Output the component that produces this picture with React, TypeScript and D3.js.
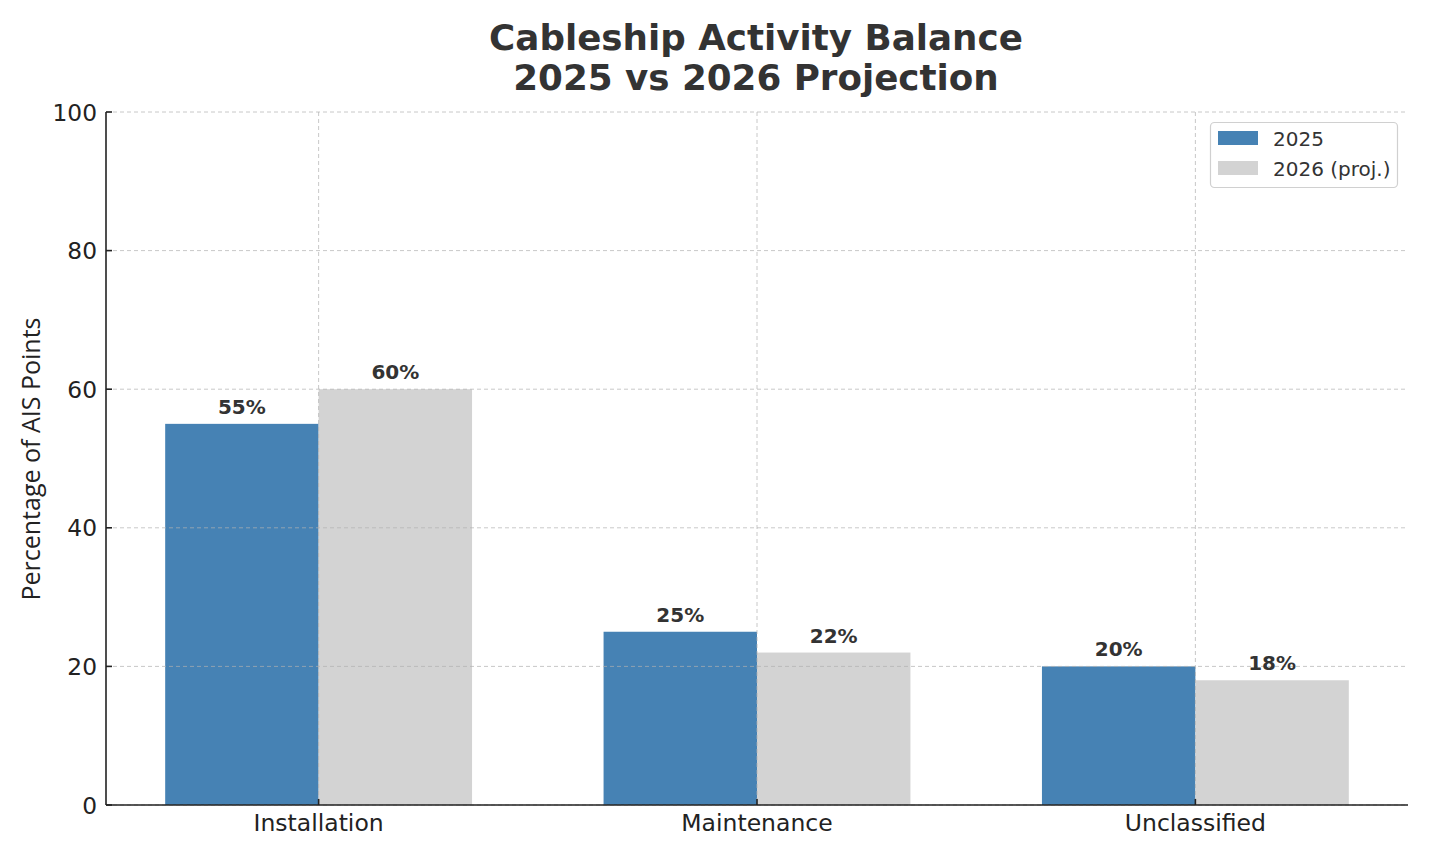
import React from "react";
import * as d3 from "d3";

const categories = ["Installation", "Maintenance", "Unclassified"];
const values2025 = [55, 25, 20];
const values2026 = [60, 22, 18];
const seriesNames = ["2025", "2026 (proj.)"];
const yTicks = [0, 20, 40, 60, 80, 100];

const W = 1429, H = 857;
const left = 106, right = 1408, top = 112, bottom = 805;
const barW = 0.35;
const colors = ["#4682B4", "#D3D3D3"];
const font = "DejaVu Sans, sans-serif";

export default function App() {
  const x = d3.scaleLinear().domain([-0.485, 2.485]).range([left, right]);
  const y = d3.scaleLinear().domain([0, 100]).range([bottom, top]);
  const series = [values2025, values2026];
  const bw = x(barW) - x(0);
  return (
    <svg width={W} height={H} style={{ position: "absolute", left: 0, top: 0 }}>
      <rect width={W} height={H} fill="#fff" />
      <text x={756} y={50} textAnchor="middle" fontFamily={font} fontWeight="bold" fontSize={35.7} fill="#333">Cableship Activity Balance</text>
      <text x={756} y={90} textAnchor="middle" fontFamily={font} fontWeight="bold" fontSize={35.7} fill="#333">2025 vs 2026 Projection</text>
      {series.map((vals, si) =>
        vals.map((v, i) => {
          const cx = i + (si === 0 ? -barW / 2 : barW / 2);
          return (
            <rect key={`b${si}-${i}`} x={x(cx - barW / 2)} y={y(v)} width={bw} height={y(0) - y(v)} fill={colors[si]} />
          );
        })
      )}
      {yTicks.map((t) => (
        <line key={`gy${t}`} x1={left} x2={right} y1={y(t)} y2={y(t)} stroke="#b0b0b0" strokeOpacity={0.7} strokeDasharray="4,3" strokeWidth={1} />
      ))}
      {categories.map((c, i) => (
        <line key={`gx${i}`} x1={x(i)} x2={x(i)} y1={top} y2={bottom} stroke="#b0b0b0" strokeOpacity={0.7} strokeDasharray="4,3" strokeWidth={1} />
      ))}
      {series.map((vals, si) =>
        vals.map((v, i) => {
          const cx = i + (si === 0 ? -barW / 2 : barW / 2);
          return (
            <text key={`l${si}-${i}`} x={x(cx)} y={y(v) - 10} textAnchor="middle" fontFamily={font} fontWeight="bold" fontSize={20} fill="#333">{`${v}%`}</text>
          );
        })
      )}
      <line x1={left} x2={left} y1={top} y2={bottom} stroke="#222" strokeWidth={1.6} />
      <line x1={left} x2={right} y1={bottom} y2={bottom} stroke="#222" strokeWidth={1.6} />
      {yTicks.map((t) => (
        <g key={`yt${t}`}>
          <line x1={left} x2={left + 6} y1={y(t)} y2={y(t)} stroke="#222" strokeWidth={1.6} />
          <text x={97} y={y(t) + 8.5} textAnchor="end" fontFamily={font} fontSize={23.3} fill="#222">{t}</text>
        </g>
      ))}
      {categories.map((c, i) => (
        <g key={`xt${i}`}>
          <line x1={x(i)} x2={x(i)} y1={bottom} y2={bottom - 6} stroke="#222" strokeWidth={1.6} />
          <text x={x(i)} y={830.5} textAnchor="middle" fontFamily={font} fontSize={23.5} fill="#222">{c}</text>
        </g>
      ))}
      <text transform={`translate(40,459) rotate(-90)`} textAnchor="middle" fontFamily="Open Sans, sans-serif" fontSize={25} fill="#222">Percentage of AIS Points</text>
      <rect x={1210.5} y={122.5} width={187} height={65} rx={4} fill="#fff" fillOpacity={0.8} stroke="#d0d0d0" strokeWidth={1.2} />
      {seriesNames.map((n, i) => (
        <g key={`lg${i}`}>
          <rect x={1218} y={131 + i * 30} width={40} height={14} fill={colors[i]} />
          <text x={1273} y={145.5 + i * 30} fontFamily={font} fontSize={20} fill="#333">{n}</text>
        </g>
      ))}
    </svg>
  );
}
